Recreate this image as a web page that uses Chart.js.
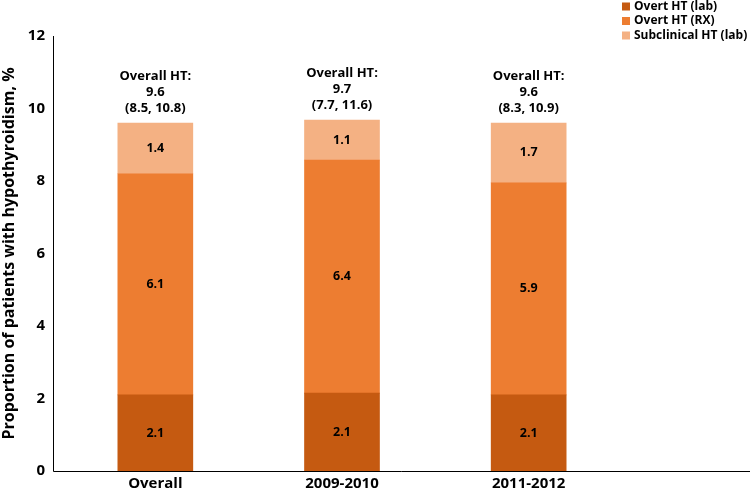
<!DOCTYPE html>
<html>
<head>
<meta charset="utf-8">
<script src="https://cdn.jsdelivr.net/npm/chart.js@4"></script>
<style>
  html, body { margin: 0; padding: 0; background: #fff; }
  #wrap { width: 750px; height: 497px; position: relative; }
</style>
</head>
<body>
<div id="wrap"><canvas id="c"></canvas></div>
<script>
// Hypothyroidism proportion by period, stacked
const categories = ['Overall', '2009-2010', '2011-2012'];
const overtLab = [2.1, 2.15, 2.1];
const overtRx = [6.1, 6.43, 5.85];
const subclinical = [1.4, 1.1, 1.65];
const segLabels = [['2.1', '2.1', '2.1'], ['6.1', '6.4', '5.9'], ['1.4', '1.1', '1.7']];
const totalLabels = [
  ['Overall HT:', '9.6', '(8.5, 10.8)'],
  ['Overall HT:', '9.7', '(7.7, 11.6)'],
  ['Overall HT:', '9.6', '(8.3, 10.9)'],
];
const yTicks = [0, 2, 4, 6, 8, 10, 12];

const FONT = "'Open Sans', 'Liberation Sans', sans-serif";
const COLORS = ['#C55A11', '#ED7D31', '#F4B183'];

// axis lines: y axis sits a bit left of the plot area, x axis runs to the edge
const axisLines = {
  id: 'axisLines',
  afterDraw(chart) {
    const { ctx, chartArea: a } = chart;
    ctx.save();
    ctx.strokeStyle = '#000';
    ctx.lineWidth = 1;
    ctx.beginPath();
    ctx.moveTo(53.5, a.top);
    ctx.lineTo(53.5, a.bottom + 0.5);
    ctx.lineTo(chart.width, a.bottom + 0.5);
    ctx.stroke();
    ctx.restore();
  }
};

// value labels in segments + totals above bars
const barLabels = {
  id: 'barLabels',
  afterDatasetsDraw(chart) {
    const { ctx } = chart;
    ctx.save();
    ctx.fillStyle = '#000';
    ctx.textAlign = 'center';
    ctx.textBaseline = 'middle';
    ctx.font = `bold 12.5px ${FONT}`;
    chart.data.datasets.forEach((ds, di) => {
      chart.getDatasetMeta(di).data.forEach((bar, i) => {
        const yc = (bar.y + bar.base) / 2;
        ctx.fillText(segLabels[di][i], bar.x, yc);
      });
    });
    ctx.font = `bold 13px ${FONT}`;
    const top = chart.getDatasetMeta(2).data;
    top.forEach((bar, i) => {
      const lines = totalLabels[i];
      lines.forEach((t, k) => {
        ctx.fillText(t, bar.x, bar.y - 15 - (lines.length - 1 - k) * 16);
      });
    });
    ctx.restore();
  }
};

// compact vertical legend in the top-right corner
const cornerLegend = {
  id: 'cornerLegend',
  afterDraw(chart) {
    const { ctx } = chart;
    ctx.save();
    ctx.font = `bold 12px ${FONT}`;
    ctx.textBaseline = 'middle';
    ctx.textAlign = 'left';
    chart.data.datasets.forEach((ds, i) => {
      const y = 6.5 + i * 14.5;
      ctx.fillStyle = ds.backgroundColor;
      ctx.fillRect(622, y - 4, 8, 8);
      ctx.fillStyle = '#000';
      ctx.fillText(ds.label, 634, y);
    });
    ctx.restore();
  }
};

new Chart(document.getElementById('c'), {
  type: 'bar',
  data: {
    labels: categories,
    datasets: [
      { label: 'Overt HT (lab)', data: overtLab, backgroundColor: COLORS[0] },
      { label: 'Overt HT (RX)', data: overtRx, backgroundColor: COLORS[1] },
      { label: 'Subclinical HT (lab)', data: subclinical, backgroundColor: COLORS[2] },
    ]
  },
  options: {
    responsive: true,
    maintainAspectRatio: false,
    animation: false,
    layout: { padding: { top: 36, right: 128, left: 0, bottom: 0 } },
    datasets: { bar: { barThickness: 75 } },
    plugins: { legend: { display: false }, tooltip: { enabled: false } },
    scales: {
      x: {
        stacked: true,
        grid: { display: false, drawTicks: false },
        border: { display: false },
        ticks: { color: '#000', font: { family: FONT, size: 15, weight: 'bold' }, padding: 4 }
      },
      y: {
        stacked: true,
        min: 0, max: 12,
        afterBuildTicks: s => { s.ticks = yTicks.map(v => ({ value: v })); },
        afterFit: s => { s.width = 62; },
        grid: { display: false, drawTicks: false },
        border: { display: false },
        ticks: { color: '#000', font: { family: FONT, size: 15, weight: 'bold' }, padding: 17 },
        title: {
          display: true,
          text: 'Proportion of patients with hypothyroidism, %',
          color: '#000',
          font: { family: FONT, size: 16, weight: 'bold' },
          padding: { top: 0, bottom: 0 }
        }
      }
    }
  },
  plugins: [axisLines, barLabels, cornerLegend]
});
</script>
</body>
</html>
